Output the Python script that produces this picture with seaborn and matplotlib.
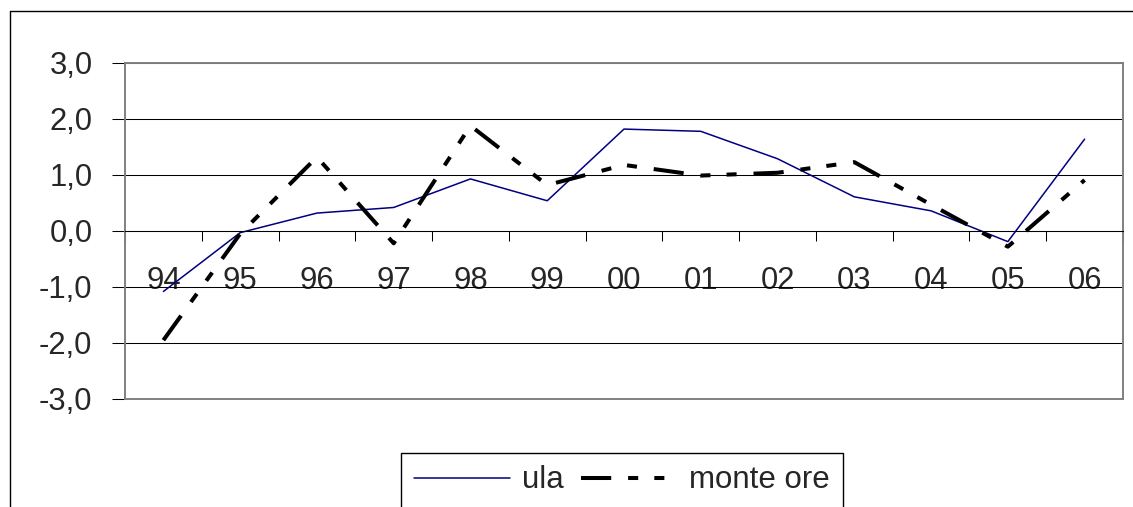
import numpy as np
import pandas as pd
import matplotlib
matplotlib.use("Agg")
import matplotlib.pyplot as plt
import seaborn as sns
from matplotlib.lines import Line2D

years = ["94", "95", "96", "97", "98", "99", "00", "01", "02", "03", "04", "05", "06"]
ula = [-1.08, -0.03, 0.32, 0.42, 0.93, 0.54, 1.82, 1.78, 1.29, 0.61, 0.36, -0.19, 1.64]
monte_ore = [-1.95, -0.05, 1.32, -0.22, 1.88, 0.82, 1.18, 0.99, 1.04, 1.23, 0.47, -0.28, 0.91]
y_ticks = [-3, -2, -1, 0, 1, 2, 3]

sns.set_theme(style="white")
plt.rcParams["font.family"] = ["Liberation Sans", "DejaVu Sans"]

W, H = 1133, 507
fig = plt.figure(figsize=(W / 100, H / 100), dpi=100)
ax = fig.add_axes([125 / W, 1 - 399 / H, 998 / W, 336 / H])

df = pd.DataFrame({"pos": np.arange(len(years)), "ula": ula, "monte ore": monte_ore})
sns.lineplot(data=df, x="pos", y="ula", ax=ax, color="#000080", lw=1.1, label="ula")
sns.lineplot(data=df, x="pos", y="monte ore", ax=ax, color="black", lw=2.9,
             linestyle=(0, (7.5, 4.2, 2.5, 4.0, 2.5, 4.2)), label="monte ore")

ax.set_xlim(-0.5, len(years) - 0.5)
ax.set_ylim(-3, 3)
ax.set_xlabel("")
ax.set_ylabel("")

ax.set_yticks(y_ticks)
ax.set_yticklabels([f"{v:.1f}".replace(".", ",") for v in y_ticks])
ax.set_xticks(np.arange(-0.5, len(years), 1.0))
ax.set_xticklabels([])
ax.set_xticks(np.arange(len(years)), minor=True)
ax.set_xticklabels(years, minor=True)

ax.tick_params(axis="x", which="major", direction="out", length=7, width=0.75,
               color="black", bottom=True)
ax.tick_params(axis="x", which="minor", length=0, pad=25.5, labelsize=22.3, bottom=True)
ax.tick_params(axis="y", direction="out", length=9.4, width=0.75, color="black",
               pad=14, labelsize=22.3, left=True)

ax.yaxis.grid(True, color="black", lw=0.75)
ax.xaxis.grid(False)
ax.set_axisbelow(True)

ax.spines["bottom"].set_position(("data", 0))
ax.spines["bottom"].set_color("black")
ax.spines["bottom"].set_linewidth(0.75)
for s in ["top", "right", "left"]:
    ax.spines[s].set_color("#808080")
    ax.spines[s].set_linewidth(1.4)
ax.axhline(-3, color="#808080", lw=1.4, clip_on=False)

handles, labels = ax.get_legend_handles_labels()
if ax.get_legend() is not None:
    ax.get_legend().remove()
leg = fig.legend(handles, labels, loc="upper left", bbox_to_anchor=(401 / W, 1 - 453 / H),
                 ncol=2, frameon=True, fancybox=False, edgecolor="black", fontsize=22.5,
                 handlelength=3.1, handletextpad=0.37, columnspacing=0.55,
                 borderpad=0.4, borderaxespad=0)
leg.get_frame().set_linewidth(1)
leg.get_frame().set_alpha(1)

# outer chart border
fig.add_artist(Line2D([10 / W, 10 / W], [0, 1 - 11 / H], transform=fig.transFigure, color="black", lw=1))
fig.add_artist(Line2D([10 / W, 1], [1 - 11 / H, 1 - 11 / H], transform=fig.transFigure, color="black", lw=1))

fig.savefig("out.png", dpi=100)
